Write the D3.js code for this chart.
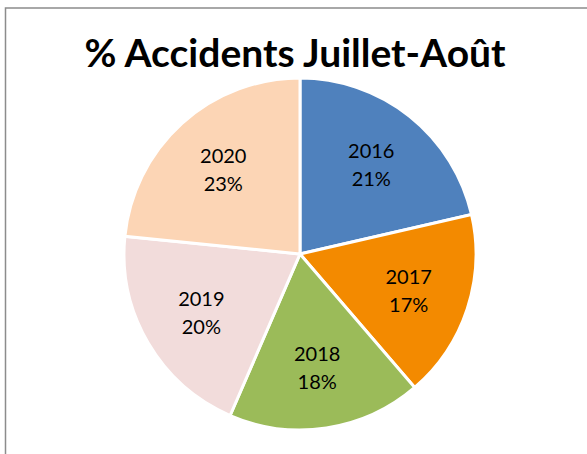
<!DOCTYPE html>
<head>
<meta charset="utf-8">
<style>
body { margin: 0; background: #fff; }
svg { display: block; }
.slice path {
  stroke: #fff;
  stroke-width: 3px;
}
.lbl {
  font-family: Lato, "Open Sans", sans-serif;
  font-size: 20px;
  fill: #000;
}
</style>
</head>
<body>
<script src="https://cdnjs.cloudflare.com/ajax/libs/d3/7.8.5/d3.min.js"></script>
<script>
var years = ["2016", "2017", "2018", "2019", "2020"];
var shares = [21.4, 17.3, 17.8, 20.1, 23.4];
var colors = ["#4f81bd", "#f38a00", "#9bbb59", "#f2dcdb", "#fcd5b5"];
var title = "% Accidents Juillet-Août";

var width = 587, height = 454;
var cx = 300, cy = 254, r = 176;

var svg = d3.select("body").append("svg")
  .attr("width", width)
  .attr("height", height);

// chart frame (runs off the right and bottom edges)
svg.append("rect")
  .attr("x", 5.5)
  .attr("y", 8)
  .attr("width", 600)
  .attr("height", 500)
  .attr("fill", "none")
  .attr("stroke", "#8c8c8c")
  .attr("stroke-width", 1.5);

svg.append("text")
  .attr("x", 295)
  .attr("y", 67)
  .attr("text-anchor", "middle")
  .style("font-family", "Lato, 'Open Sans', sans-serif")
  .style("font-weight", "bold")
  .style("font-size", "39px")
  .text(title);

var data = years.map(function(y, i) { return { year: y, v: shares[i], c: colors[i] }; });
var total = d3.sum(shares);

var pie = d3.pie().sort(null).value(function(d) { return d.v; });
var arc = d3.arc().innerRadius(0).outerRadius(r);
var labelArc = d3.arc().innerRadius(r * 0.65).outerRadius(r * 0.65);

var g = svg.append("g").attr("transform", "translate(" + cx + "," + cy + ")");

var slices = g.selectAll(".slice")
  .data(pie(data))
  .enter().append("g")
  .attr("class", "slice");

slices.append("path")
  .attr("d", arc)
  .attr("fill", function(d) { return d.data.c; });

var lbl = slices.append("text")
  .attr("class", "lbl")
  .attr("text-anchor", "middle")
  .attr("transform", function(d) {
    var p = labelArc.centroid(d);
    return "translate(" + p[0] + "," + p[1] + ")";
  });

lbl.append("tspan")
  .attr("x", 0)
  .attr("y", -6)
  .text(function(d) { return d.data.year; });

lbl.append("tspan")
  .attr("x", 0)
  .attr("y", 22)
  .text(function(d) { return Math.round(d.data.v / total * 100) + "%"; });
</script>
</body>
